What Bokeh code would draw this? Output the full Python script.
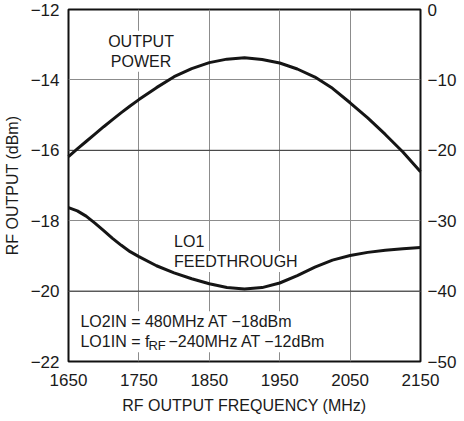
from bokeh.plotting import figure
from bokeh.models import LinearAxis, Range1d, FixedTicker, Label, Span
from bokeh.embed import file_html
from bokeh.resources import INLINE

# ---- data ----
freq = [1650, 1662.5, 1675, 1687.5, 1700, 1712.5, 1725, 1737.5, 1750, 1775, 1800,
        1825, 1850, 1875, 1900, 1925, 1950, 1975, 2000, 2025, 2050, 2075, 2100,
        2125, 2150]
output_power = [-16.18, -15.96, -15.75, -15.54, -15.33, -15.13, -14.93, -14.74,
                -14.56, -14.22, -13.91, -13.68, -13.51, -13.41, -13.37, -13.42,
                -13.52, -13.69, -13.92, -14.24, -14.65, -15.08, -15.55, -16.05,
                -16.61]
lo1_feedthrough = [-28.15, -28.6, -29.35, -30.35, -31.4, -32.5, -33.5, -34.4,
                   -35.1, -36.4, -37.4, -38.25, -38.95, -39.5, -39.7, -39.5,
                   -38.85, -37.8, -36.6, -35.6, -34.95, -34.5, -34.2, -34.0, -33.8]

x_ticks = [1650, 1750, 1850, 1950, 2050, 2150]
left_ticks = [-22, -20, -18, -16, -14, -12]
right_ticks = [-50, -40, -30, -20, -10, 0]
dark_grid = [-16, -20]

FONT = "Liberation Sans"
TICK_FS = "17px"
TITLE_FS = "16px"
NOTE_FS = "16px"
TXT = "#1a1a1a"

p = figure(frame_width=352, frame_height=352,
           x_range=Range1d(1650, 2150), y_range=Range1d(-22, -12),
           output_backend="svg", toolbar_location=None,
           min_border_left=61, min_border_right=40,
           min_border_top=9, min_border_bottom=56,
           background_fill_color="white", border_fill_color="white")
p.extra_y_ranges = {"lo1": Range1d(-50, 0)}

right_axis = LinearAxis(y_range_name="lo1", ticker=FixedTicker(ticks=right_ticks))
p.add_layout(right_axis, "right")

left_axis = p.yaxis[0]
bottom_axis = p.xaxis[0]
left_axis.ticker = FixedTicker(ticks=left_ticks)
bottom_axis.ticker = FixedTicker(ticks=x_ticks)

left_axis.major_label_overrides = {t: str(t).replace("-", "\u2212") for t in left_ticks}
right_axis.major_label_overrides = {t: str(t).replace("-", "\u2212") for t in right_ticks}

left_axis.axis_label = "RF OUTPUT (dBm)"
bottom_axis.axis_label = "RF OUTPUT FREQUENCY (MHz)"

for ax in (left_axis, right_axis, bottom_axis):
    ax.axis_line_color = None
    ax.major_tick_line_color = None
    ax.minor_tick_line_color = None
    ax.major_tick_in = 0
    ax.major_tick_out = 0
    ax.major_label_text_font = FONT
    ax.major_label_text_font_size = TICK_FS
    ax.major_label_text_color = TXT
    ax.axis_label_text_font = FONT
    ax.axis_label_text_font_size = TITLE_FS
    ax.axis_label_text_font_style = "normal"
    ax.axis_label_text_color = TXT

left_axis.major_label_standoff = 9
right_axis.major_label_standoff = 7
bottom_axis.major_label_standoff = 12
left_axis.axis_label_standoff = 7
bottom_axis.axis_label_standoff = 8

p.xgrid.ticker = FixedTicker(ticks=x_ticks)
p.ygrid.ticker = FixedTicker(ticks=left_ticks)
p.xgrid.grid_line_color = "#8c8c8c"
p.ygrid.grid_line_color = "#8c8c8c"
p.xgrid.grid_line_width = 1
p.ygrid.grid_line_width = 1

for lvl in dark_grid:
    p.add_layout(Span(location=lvl, dimension="width", line_color="#3a3a3a",
                      line_width=1, level="underlay"))

p.outline_line_color = "#111111"
p.outline_line_width = 2

r1 = p.line(freq, output_power, line_width=3, line_color="#151515", line_join="round")
r2 = p.line(freq, lo1_feedthrough, y_range_name="lo1", line_width=3,
            line_color="#151515", line_join="round")
r1.level = "overlay"
r2.level = "overlay"


def lab(x, y, text, align="left", xo=0, yo=0, size=NOTE_FS, bg="white", pad=2):
    p.add_layout(Label(x=x, y=y, text=text, x_offset=xo, y_offset=yo,
                       text_font=FONT, text_font_size=size, text_color=TXT,
                       text_align=align, text_baseline="middle",
                       background_fill_color=bg, padding=pad))


lab(1753, -12.9, "OUTPUT", align="center")
lab(1753, -13.47, "POWER", align="center")
lab(1800, -18.59, "LO1", xo=-2)
lab(1800, -19.16, "FEEDTHROUGH", xo=-2)
lab(1667, -20.87, "LO2IN = 480MHz AT \u221218dBm", xo=-2)
lab(1667, -21.44, "LO1IN = f", xo=-2)
lab(1667, -21.44, "\u2212240MHz AT \u221212dBm", xo=86)
lab(1667, -21.44, "RF", xo=68, yo=-4, size="13px", bg=None, pad=0)

open("out.html", "w").write(file_html(p, INLINE))
